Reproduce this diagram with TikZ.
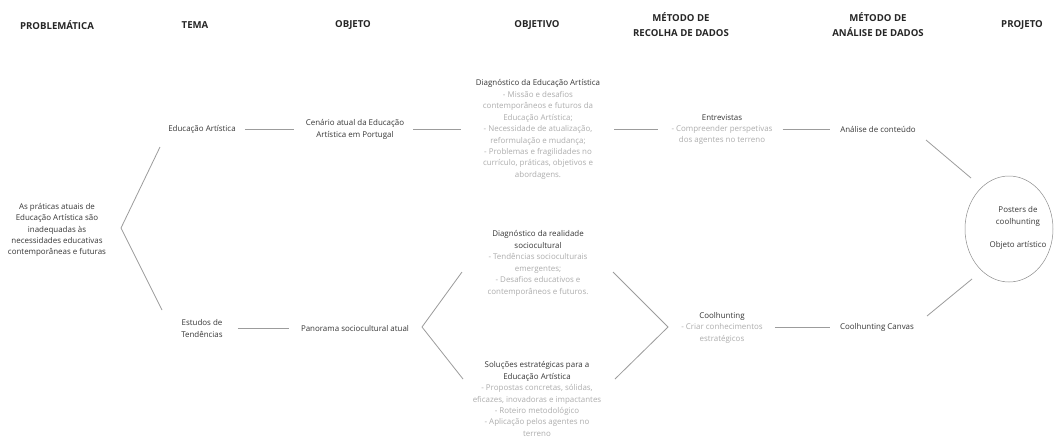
\documentclass[tikz,border=0pt]{standalone}
\usepackage{fontspec}
\setmainfont{Open Sans}
\usetikzlibrary{shapes.geometric}
\definecolor{hd}{HTML}{262626}
\definecolor{tx}{HTML}{363636}
\definecolor{ds}{HTML}{ADADAD}
\definecolor{ln}{HTML}{9C9C9C}
\tikzset{
  hdr/.style={font=\fontsize{9.6}{15}\selectfont\bfseries, text=hd, align=center, inner sep=0pt},
  txt/.style={font=\fontsize{7.95}{11.45}\selectfont, text=tx, align=center, inner sep=0pt},
  conn/.style={draw=ln, line width=0.8pt},
  ring/.style={draw=ln!90!black, line width=0.5pt, ellipse, minimum width=88pt, minimum height=106pt, inner sep=0pt},
}
\newcommand{\dsc}[1]{\textcolor{ds}{#1}}
\begin{document}
\begin{tikzpicture}[x=1pt,y=-1pt]
\useasboundingbox (0,0) rectangle (1061,437);
\fill[white] (0,0) rectangle (1061,437);
% headers
\node[hdr] (h1) at (57,25) {PROBLEMÁTICA};
\node[hdr] (h2) at (195,25) {TEMA};
\node[hdr] (h3) at (353,25) {OBJETO};
\node[hdr] (h4) at (537,25) {OBJETIVO};
\node[hdr] (h5) at (681,25) {MÉTODO DE\\RECOLHA DE DADOS};
\node[hdr] (h6) at (878,25) {MÉTODO DE\\ANÁLISE DE DADOS};
\node[hdr] (h7) at (1022,25) {PROJETO};
% body nodes
\node[txt] (prob) at (57,230) {As práticas atuais de\\Educação Artística são\\inadequadas às\\necessidades educativas\\contemporâneas e futuras};
\node[txt] (edu) at (202,129.5) {Educação Artística};
\node[txt] (cen) at (355,129.5) {Cenário atual da Educação\\Artística em Portugal};
\node[txt] (diag1) at (538,129.5) {Diagnóstico da Educação Artística\\\dsc{- Missão e desafios}\\\dsc{contemporâneos e futuros da}\\\dsc{Educação Artística;}\\\dsc{- Necessidade de atualização,}\\\dsc{reformulação e mudança;}\\\dsc{- Problemas e fragilidades no}\\\dsc{currículo, práticas, objetivos e}\\\dsc{abordagens.}};
\node[txt] (ent) at (722,129.5) {Entrevistas\\\dsc{- Compreender perspetivas}\\\dsc{dos agentes no terreno}};
\node[txt] (ana) at (878,129.5) {Análise de conteúdo};
\node[txt] (est) at (202,328.5) {Estudos de\\Tendências};
\node[txt] (pan) at (355,328.5) {Panorama sociocultural atual};
\node[txt] (diag2) at (538,263.5) {Diagnóstico da realidade\\sociocultural\\\dsc{- Tendências socioculturais}\\\dsc{emergentes;}\\\dsc{- Desafios educativos e}\\\dsc{contemporâneos e futuros.}};
\node[txt] (sol) at (537,399) {Soluções estratégicas para a\\Educação Artística\\\dsc{- Propostas concretas, sólidas,}\\\dsc{eficazes, inovadoras e impactantes}\\\dsc{- Roteiro metodológico}\\\dsc{- Aplicação pelos agentes no}\\\dsc{terreno}};
\node[txt] (cool) at (722,327.5) {Coolhunting\\\dsc{- Criar conhecimentos}\\\dsc{estratégicos}};
\node[txt] (can) at (877,327.5) {Coolhunting Canvas};
\node[ring] (circ) at (1009,229) {};
\node[txt] (proj) at (1018,228) {Posters de\\coolhunting\\[11.45pt]Objeto artístico};
% chevron coordinates
\coordinate (a1) at (160,147);
\coordinate (av) at (121,228);
\coordinate (a2) at (162,310);
\coordinate (b1) at (462,272);
\coordinate (bv) at (422,327);
\coordinate (b2) at (463,379);
\coordinate (c1) at (613,272);
\coordinate (cv) at (668,327);
\coordinate (c2) at (615,379);
\coordinate (d1) at (926,140);
\coordinate (d2) at (971,178);
\coordinate (e1) at (927,316);
\coordinate (e2) at (972,279);
% connectors
\draw[conn] (a1) -- (av) -- (a2);
\draw[conn] (b1) -- (bv) -- (b2);
\draw[conn] (c1) -- (cv) -- (c2);
\draw[conn] (d1) -- (d2);
\draw[conn] (e1) -- (e2);
\draw[conn] ([xshift=9pt]edu.east) -- ([xshift=-12pt]cen.west);
\draw[conn] ([xshift=9pt]cen.east) -- ([xshift=-15pt]diag1.west);
\draw[conn] ([xshift=14pt]diag1.east) -- ([xshift=-13pt]ent.west);
\draw[conn] ([xshift=10pt]ent.east) -- ([xshift=-10pt]ana.west);
\draw[conn] ([xshift=15pt]est.east) -- ([xshift=-12pt]pan.west);
\draw[conn] ([xshift=12pt]cool.east) -- ([xshift=-10pt]can.west);
\end{tikzpicture}
\end{document}
